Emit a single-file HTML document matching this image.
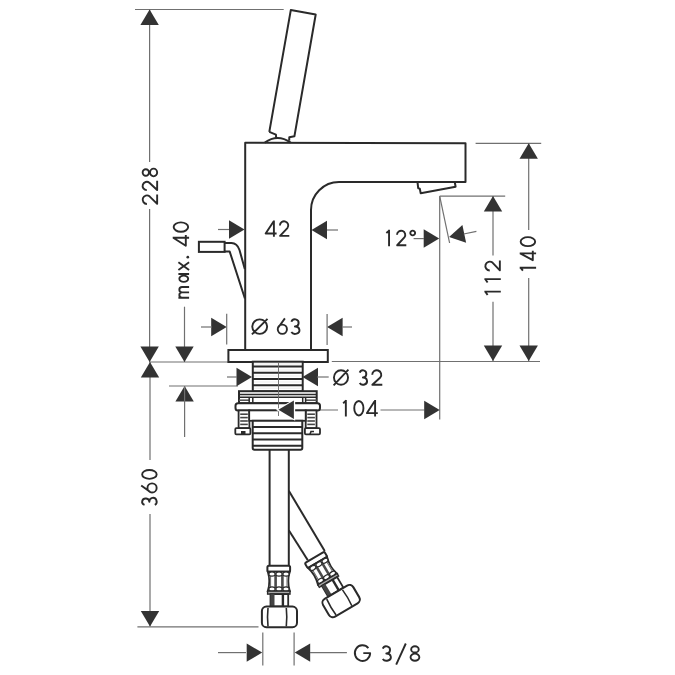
<!DOCTYPE html>
<html><head><meta charset="utf-8"><style>
html,body{margin:0;padding:0;background:#fff;width:675px;height:675px;overflow:hidden}
svg{display:block}
body{font-family:"Liberation Sans",sans-serif}
</style></head><body>
<svg width="675" height="675" viewBox="0 0 675 675">
<rect width="675" height="675" fill="#fff"/>
<line x1="135" y1="9.5" x2="283.7" y2="9.5" stroke="#707070" stroke-width="1.2"/>
<line x1="149.6" y1="9.5" x2="149.6" y2="162" stroke="#707070" stroke-width="1.2"/>
<line x1="149.6" y1="209" x2="149.6" y2="362" stroke="#707070" stroke-width="1.2"/>
<polygon points="149.60,9.50 140.40,25.00 158.80,25.00" fill="#333333"/>
<polygon points="149.60,362.00 140.40,346.50 158.80,346.50" fill="#333333"/>
<line x1="149.5" y1="362" x2="230" y2="362" stroke="#707070" stroke-width="1.2"/>
<line x1="331.8" y1="361.5" x2="540" y2="361.5" stroke="#707070" stroke-width="1.2"/>
<line x1="150" y1="362" x2="150" y2="460" stroke="#707070" stroke-width="1.2"/>
<line x1="150" y1="514" x2="150" y2="626.6" stroke="#707070" stroke-width="1.2"/>
<polygon points="150.00,362.00 140.80,377.50 159.20,377.50" fill="#333333"/>
<polygon points="150.00,626.60 140.80,611.10 159.20,611.10" fill="#333333"/>
<line x1="137.4" y1="626.8" x2="258.5" y2="626.8" stroke="#707070" stroke-width="1.2"/>
<line x1="184.5" y1="306.7" x2="184.5" y2="362" stroke="#707070" stroke-width="1.2"/>
<polygon points="184.50,362.00 175.30,346.50 193.70,346.50" fill="#333333"/>
<line x1="169" y1="386" x2="238" y2="386" stroke="#707070" stroke-width="1.2"/>
<polygon points="184.60,386.00 175.40,401.50 193.80,401.50" fill="#333333"/>
<line x1="184.6" y1="386" x2="184.6" y2="437" stroke="#707070" stroke-width="1.2"/>
<polygon points="244.50,229.50 229.00,220.30 229.00,238.70" fill="#333333"/>
<line x1="218" y1="229.5" x2="229" y2="229.5" stroke="#707070" stroke-width="1.2"/>
<polygon points="311.50,230.00 327.00,220.80 327.00,239.20" fill="#333333"/>
<line x1="327" y1="230" x2="338" y2="230" stroke="#707070" stroke-width="1.2"/>
<polygon points="226.70,327.00 211.20,317.80 211.20,336.20" fill="#333333"/>
<line x1="201" y1="327" x2="212" y2="327" stroke="#707070" stroke-width="1.2"/>
<line x1="226.7" y1="313.8" x2="226.7" y2="344.4" stroke="#707070" stroke-width="1.2"/>
<polygon points="327.10,327.00 342.60,317.80 342.60,336.20" fill="#333333"/>
<line x1="342" y1="327" x2="352" y2="327" stroke="#707070" stroke-width="1.2"/>
<line x1="327.1" y1="314" x2="327.1" y2="345" stroke="#707070" stroke-width="1.2"/>
<polygon points="252.00,377.00 236.50,367.80 236.50,386.20" fill="#333333"/>
<line x1="227" y1="377" x2="237" y2="377" stroke="#707070" stroke-width="1.2"/>
<polygon points="302.50,377.00 318.00,367.80 318.00,386.20" fill="#333333"/>
<line x1="317" y1="377" x2="328.7" y2="377" stroke="#707070" stroke-width="1.2"/>
<line x1="439.7" y1="196.2" x2="439.7" y2="419.5" stroke="#707070" stroke-width="1.2"/>
<line x1="294" y1="410" x2="338" y2="410" stroke="#707070" stroke-width="1.2"/>
<line x1="380.5" y1="410" x2="424.5" y2="410" stroke="#707070" stroke-width="1.2"/>
<polygon points="439.70,410.00 424.20,400.80 424.20,419.20" fill="#333333"/>
<line x1="439.7" y1="196.2" x2="505.2" y2="196.2" stroke="#707070" stroke-width="1.2"/>
<line x1="439.7" y1="196.2" x2="449.6" y2="243" stroke="#707070" stroke-width="1.2"/>
<polygon points="439.20,238.50 423.70,229.30 423.70,247.70" fill="#333333"/>
<line x1="413.6" y1="238.6" x2="424" y2="238.6" stroke="#707070" stroke-width="1.2"/>
<g transform="rotate(-12 449.1 237.1)"><polygon points="449.1,237.1 464.6,228.1 464.6,246.1" fill="#333333"/><line x1="464" y1="237.1" x2="477" y2="237.1" stroke="#707070" stroke-width="1.2"/></g>
<line x1="493" y1="196" x2="493" y2="255.5" stroke="#707070" stroke-width="1.2"/>
<line x1="493" y1="301.8" x2="493" y2="361" stroke="#707070" stroke-width="1.2"/>
<polygon points="493.00,196.00 483.80,211.50 502.20,211.50" fill="#333333"/>
<polygon points="493.00,361.00 483.80,345.50 502.20,345.50" fill="#333333"/>
<line x1="475.6" y1="143.3" x2="541.2" y2="143.3" stroke="#707070" stroke-width="1.2"/>
<line x1="528.7" y1="143.3" x2="528.7" y2="230" stroke="#707070" stroke-width="1.2"/>
<line x1="528.7" y1="278" x2="528.7" y2="361" stroke="#707070" stroke-width="1.2"/>
<polygon points="528.70,143.30 519.50,158.80 537.90,158.80" fill="#333333"/>
<polygon points="528.70,361.00 519.50,345.50 537.90,345.50" fill="#333333"/>
<line x1="218" y1="652.6" x2="246" y2="652.6" stroke="#707070" stroke-width="1.2"/>
<polygon points="262.20,652.60 246.70,643.40 246.70,661.80" fill="#333333"/>
<polygon points="294.70,652.60 310.20,643.40 310.20,661.80" fill="#333333"/>
<line x1="310" y1="652.6" x2="346.9" y2="652.6" stroke="#707070" stroke-width="1.2"/>
<line x1="262.8" y1="632.4" x2="262.8" y2="665.6" stroke="#707070" stroke-width="1.2"/>
<line x1="294.1" y1="632.4" x2="294.1" y2="665.6" stroke="#707070" stroke-width="1.2"/>
<path d="M269.3,131.9 L290.8,10.1 L315.7,14.5 L294.4,136.3 L289.3,137.2 L289.2,140.8" fill="none" stroke="#2a2a2a" stroke-width="2" stroke-linejoin="round"/>
<path d="M269.3,131.9 L275.9,134.6 L276.2,138.2" fill="none" stroke="#2a2a2a" stroke-width="2" stroke-linejoin="round"/>
<path d="M264.8,142.6 Q277.5,133.5 290.7,142.6" fill="none" stroke="#2a2a2a" stroke-width="2" stroke-linejoin="round"/>
<path d="M245.2,350 V142.8 L465.5,143.3 V182 H339 A28,28 0 0 0 311,210 V350" fill="none" stroke="#2a2a2a" stroke-width="2" stroke-linejoin="round"/>
<polyline points="417.50,182.20 418.20,188.20 419.80,188.60 420.70,193.30 455.60,186.70 454.80,182.30" fill="none" stroke="#2a2a2a" stroke-width="2" stroke-linejoin="round"/>
<rect x="198.9" y="241.8" width="25.7" height="10.1" rx="0" fill="#fff" stroke="#2a2a2a" stroke-width="2"/>
<path d="M224.6,243 H231.5 Q237,243 239.5,250 L244.8,269" fill="none" stroke="#2a2a2a" stroke-width="2" stroke-linejoin="round"/>
<path d="M224.6,251.6 H229.7 L244.9,298.5" fill="none" stroke="#2a2a2a" stroke-width="2" stroke-linejoin="round"/>
<rect x="228.4" y="350" width="99.4" height="12" rx="0" fill="#fff" stroke="#2a2a2a" stroke-width="2"/>
<rect x="252.8" y="361.7" width="49.9" height="29.7" rx="0" fill="#fff" stroke="#2a2a2a" stroke-width="2"/>
<line x1="252.8" y1="366.5" x2="302.7" y2="366.5" stroke="#2a2a2a" stroke-width="2.0"/>
<line x1="252.8" y1="372.8" x2="302.7" y2="372.8" stroke="#2a2a2a" stroke-width="2.0"/>
<line x1="252.8" y1="379" x2="302.7" y2="379" stroke="#2a2a2a" stroke-width="2.0"/>
<line x1="252.8" y1="385.2" x2="302.7" y2="385.2" stroke="#2a2a2a" stroke-width="2.0"/>
<line x1="254" y1="364" x2="301.5" y2="364" stroke="#e4e4e4" stroke-width="0.7"/>
<line x1="254" y1="370" x2="301.5" y2="370" stroke="#e4e4e4" stroke-width="0.7"/>
<line x1="254" y1="376" x2="301.5" y2="376" stroke="#e4e4e4" stroke-width="0.7"/>
<line x1="254" y1="382" x2="301.5" y2="382" stroke="#e4e4e4" stroke-width="0.7"/>
<line x1="254" y1="388.2" x2="301.5" y2="388.2" stroke="#e4e4e4" stroke-width="0.7"/>
<rect x="239" y="391.2" width="77.7" height="12" rx="0" fill="#fff" stroke="#2a2a2a" stroke-width="2"/>
<line x1="239" y1="394.5" x2="316.7" y2="394.5" stroke="#2a2a2a" stroke-width="1.4"/>
<line x1="239" y1="397.3" x2="316.7" y2="397.3" stroke="#2a2a2a" stroke-width="1.6"/>
<line x1="239" y1="400.2" x2="249" y2="400.2" stroke="#555" stroke-width="1.6"/>
<line x1="305.7" y1="400.2" x2="316.7" y2="400.2" stroke="#555" stroke-width="1.6"/>
<line x1="249.2" y1="397.3" x2="249.2" y2="403" stroke="#2a2a2a" stroke-width="1.5"/>
<line x1="252.8" y1="397.3" x2="252.8" y2="403" stroke="#2a2a2a" stroke-width="1.5"/>
<line x1="302.7" y1="397.3" x2="302.7" y2="403" stroke="#2a2a2a" stroke-width="1.5"/>
<line x1="305.6" y1="397.3" x2="305.6" y2="403" stroke="#2a2a2a" stroke-width="1.5"/>
<rect x="235.5" y="403.3" width="84.5" height="7.1" rx="2.5" fill="#fff" stroke="#2a2a2a" stroke-width="2"/>
<rect x="238.6" y="410.4" width="10.8" height="17.8" rx="0" fill="#fff" stroke="#2a2a2a" stroke-width="1.8"/>
<line x1="240.2" y1="414.2" x2="247.79999999999998" y2="414.2" stroke="#444" stroke-width="1.6"/>
<line x1="240.2" y1="417.6" x2="247.79999999999998" y2="417.6" stroke="#444" stroke-width="1.6"/>
<line x1="240.2" y1="421" x2="247.79999999999998" y2="421" stroke="#444" stroke-width="1.6"/>
<line x1="240.2" y1="424.4" x2="247.79999999999998" y2="424.4" stroke="#444" stroke-width="1.6"/>
<rect x="305.7" y="410.4" width="10.8" height="17.8" rx="0" fill="#fff" stroke="#2a2a2a" stroke-width="1.8"/>
<line x1="307.3" y1="414.2" x2="314.9" y2="414.2" stroke="#444" stroke-width="1.6"/>
<line x1="307.3" y1="417.6" x2="314.9" y2="417.6" stroke="#444" stroke-width="1.6"/>
<line x1="307.3" y1="421" x2="314.9" y2="421" stroke="#444" stroke-width="1.6"/>
<line x1="307.3" y1="424.4" x2="314.9" y2="424.4" stroke="#444" stroke-width="1.6"/>
<rect x="235.3" y="428.2" width="15.1" height="6.1" rx="1" fill="#fff" stroke="#2a2a2a" stroke-width="1.8"/>
<rect x="241" y="431" width="4.5" height="3.3" fill="#2a2a2a"/>
<rect x="304.9" y="428.2" width="15.1" height="6.1" rx="1" fill="#fff" stroke="#2a2a2a" stroke-width="1.8"/>
<path d="M310,434.3 L311,431.5 L314,431.5" stroke="#2a2a2a" stroke-width="1.6" fill="none"/>
<rect x="249.2" y="410.4" width="56.5" height="10.4" rx="0" fill="#fff" stroke="#2a2a2a" stroke-width="1.8"/>
<path d="M252.7,420.8 V448 Q252.7,449.7 254.5,449.7 H300.5 Q302.3,449.7 302.3,448 V420.8 Z" fill="#fff" stroke="#2a2a2a" stroke-width="2"/>
<line x1="252.7" y1="427" x2="302.3" y2="427" stroke="#2a2a2a" stroke-width="2.0"/>
<line x1="252.7" y1="433.3" x2="302.3" y2="433.3" stroke="#2a2a2a" stroke-width="2.0"/>
<line x1="252.7" y1="439.6" x2="302.3" y2="439.6" stroke="#2a2a2a" stroke-width="2.0"/>
<line x1="252.7" y1="445.8" x2="302.3" y2="445.8" stroke="#2a2a2a" stroke-width="2.0"/>
<line x1="278.5" y1="362" x2="278.5" y2="416" stroke="#666" stroke-width="0.9"/>
<polygon points="278.4,409.8 293.9,401 293.9,418.6" fill="#fff" stroke="#fff" stroke-width="2.5"/>
<polygon points="278.40,409.80 293.90,400.60 293.90,419.00" fill="#333333"/>
<line x1="269.6" y1="449.7" x2="269.6" y2="566.7" stroke="#2a2a2a" stroke-width="2"/>
<line x1="288.8" y1="449.7" x2="288.8" y2="566.7" stroke="#2a2a2a" stroke-width="2"/>
<line x1="288.8" y1="490.7" x2="324.7" y2="551" stroke="#2a2a2a" stroke-width="2"/>
<line x1="288.8" y1="530.3" x2="307.8" y2="560.2" stroke="#2a2a2a" stroke-width="2"/>
<g><rect x="267.4" y="565.8" width="22.7" height="5.9" rx="1.5" fill="#fff" stroke="#2a2a2a" stroke-width="2"/><path d="M267.8,571.7 Q270.8,581.4 267.8,591.1 H289.8 Q286.8,581.4 289.8,571.7 Z" fill="#fff" stroke="#2a2a2a" stroke-width="1.8"/><rect x="274.3" y="575" width="2.6" height="13" fill="#4a4a4a"/><rect x="281.1" y="575" width="2.6" height="13" fill="#4a4a4a"/><line x1="270.6" y1="575.5" x2="270.6" y2="588" stroke="#666" stroke-width="1.0"/><line x1="287.0" y1="575.5" x2="287.0" y2="588" stroke="#666" stroke-width="1.0"/><ellipse cx="272.0" cy="574.0" rx="3.2" ry="2.1" fill="#fff" stroke="#2a2a2a" stroke-width="1.2"/><ellipse cx="272.0" cy="589.0" rx="3.2" ry="2.1" fill="#fff" stroke="#2a2a2a" stroke-width="1.2"/><ellipse cx="279.0" cy="574.0" rx="3.2" ry="2.1" fill="#fff" stroke="#2a2a2a" stroke-width="1.2"/><ellipse cx="279.0" cy="589.0" rx="3.2" ry="2.1" fill="#fff" stroke="#2a2a2a" stroke-width="1.2"/><ellipse cx="286.0" cy="574.0" rx="3.2" ry="2.1" fill="#fff" stroke="#2a2a2a" stroke-width="1.2"/><ellipse cx="286.0" cy="589.0" rx="3.2" ry="2.1" fill="#fff" stroke="#2a2a2a" stroke-width="1.2"/><rect x="267.6" y="591.1" width="22.4" height="3.0" rx="0" fill="#a8a8a8" stroke="#2a2a2a" stroke-width="1.4"/><rect x="270.5" y="594.1" width="17.7" height="12.4" rx="0" fill="#fff" stroke="#2a2a2a" stroke-width="1.8"/><rect x="270.5" y="594.1" width="4.0" height="12.4" fill="#444"/><rect x="281.7" y="594.1" width="2.4" height="12.4" fill="#2a2a2a"/><rect x="261.9" y="606.6" width="35.1" height="20.6" rx="4.5" fill="#fff" stroke="#2a2a2a" stroke-width="2"/><path d="M268,608 Q267,617.2 268,626.4" fill="none" stroke="#2a2a2a" stroke-width="1.6"/><path d="M286.3,608 Q287.3,617.2 286.3,626.4" fill="none" stroke="#2a2a2a" stroke-width="1.6"/></g>
<g transform="translate(314.7 556.7) rotate(-30.5) translate(-279.2 -565.3)"><rect x="267.4" y="565.8" width="22.7" height="5.9" rx="1.5" fill="#fff" stroke="#2a2a2a" stroke-width="2"/><path d="M267.8,571.7 Q270.8,581.4 267.8,591.1 H289.8 Q286.8,581.4 289.8,571.7 Z" fill="#fff" stroke="#2a2a2a" stroke-width="1.8"/><rect x="274.3" y="575" width="2.6" height="13" fill="#4a4a4a"/><rect x="281.1" y="575" width="2.6" height="13" fill="#4a4a4a"/><line x1="270.6" y1="575.5" x2="270.6" y2="588" stroke="#666" stroke-width="1.0"/><line x1="287.0" y1="575.5" x2="287.0" y2="588" stroke="#666" stroke-width="1.0"/><ellipse cx="272.0" cy="574.0" rx="3.2" ry="2.1" fill="#fff" stroke="#2a2a2a" stroke-width="1.2"/><ellipse cx="272.0" cy="589.0" rx="3.2" ry="2.1" fill="#fff" stroke="#2a2a2a" stroke-width="1.2"/><ellipse cx="279.0" cy="574.0" rx="3.2" ry="2.1" fill="#fff" stroke="#2a2a2a" stroke-width="1.2"/><ellipse cx="279.0" cy="589.0" rx="3.2" ry="2.1" fill="#fff" stroke="#2a2a2a" stroke-width="1.2"/><ellipse cx="286.0" cy="574.0" rx="3.2" ry="2.1" fill="#fff" stroke="#2a2a2a" stroke-width="1.2"/><ellipse cx="286.0" cy="589.0" rx="3.2" ry="2.1" fill="#fff" stroke="#2a2a2a" stroke-width="1.2"/><rect x="267.6" y="591.1" width="22.4" height="3.0" rx="0" fill="#a8a8a8" stroke="#2a2a2a" stroke-width="1.4"/><rect x="270.5" y="594.1" width="17.7" height="12.4" rx="0" fill="#fff" stroke="#2a2a2a" stroke-width="1.8"/><rect x="270.5" y="594.1" width="4.0" height="12.4" fill="#444"/><rect x="281.7" y="594.1" width="2.4" height="12.4" fill="#2a2a2a"/><rect x="261.9" y="606.6" width="35.1" height="20.6" rx="4.5" fill="#fff" stroke="#2a2a2a" stroke-width="2"/><path d="M268,608 Q267,617.2 268,626.4" fill="none" stroke="#2a2a2a" stroke-width="1.6"/><path d="M286.3,608 Q287.3,617.2 286.3,626.4" fill="none" stroke="#2a2a2a" stroke-width="1.6"/></g>
<g transform="translate(0.00 236.80)" fill="none" stroke="#2a2a2a" stroke-width="1.9" stroke-linecap="butt" stroke-linejoin="round"><path transform="translate(264.70 0)" d="M9.20,0 V-16.40 M9.20,-15.90 L0.95,-3.30 H11.90"/><path transform="translate(278.90 0)" d="M1.04,-11.29 A4.17,4.17 0 1 1 8.48,-8.72 L1.15,-0.95 H10.40"/></g>
<g transform="translate(0.00 334.80)" fill="none" stroke="#2a2a2a" stroke-width="1.9" stroke-linecap="butt" stroke-linejoin="round"><path transform="translate(251.30 0)" d="M0.95,-8.20 A7.45,7.25 0 1 1 15.85,-8.20 A7.45,7.25 0 1 1 0.95,-8.20 Z M0.60,-0.40 L16.20,-16.00"/><path transform="translate(276.80 0)" d="M0.95,-5.55 A4.60,4.60 0 1 1 10.15,-5.55 A4.60,4.60 0 1 1 0.95,-5.55 Z M8.10,-16.40 L1.45,-7.35"/><path transform="translate(289.80 0)" d="M1.58,-13.08 A3.74,3.60 0 1 1 5.10,-8.25 A4.35,3.65 0 1 1 1.53,-2.77"/></g>
<g transform="translate(0.00 385.70)" fill="none" stroke="#2a2a2a" stroke-width="1.9" stroke-linecap="butt" stroke-linejoin="round"><path transform="translate(333.00 0)" d="M0.95,-8.20 A7.05,7.25 0 1 1 15.05,-8.20 A7.05,7.25 0 1 1 0.95,-8.20 Z M0.60,-0.40 L15.40,-16.00"/><path transform="translate(358.20 0)" d="M1.51,-13.08 A3.40,3.60 0 1 1 4.70,-8.25 A3.95,3.65 0 1 1 1.48,-2.77"/><path transform="translate(371.20 0)" d="M1.04,-10.94 A4.51,4.51 0 1 1 9.10,-8.17 L1.15,-0.95 H11.10"/></g>
<g transform="translate(0.00 416.40)" fill="none" stroke="#2a2a2a" stroke-width="1.9" stroke-linecap="butt" stroke-linejoin="round"><path transform="translate(342.20 0)" d="M3.65,0 V-16.40 M4.05,-15.80 L0.95,-13.20"/><path transform="translate(353.30 0)" d="M0.95,-8.20 A4.60,7.25 0 1 1 10.15,-8.20 A4.60,7.25 0 1 1 0.95,-8.20 Z"/><path transform="translate(366.00 0)" d="M9.10,0 V-16.40 M9.10,-15.90 L0.95,-3.30 H11.80"/></g>
<g transform="translate(0.00 246.20)" fill="none" stroke="#2a2a2a" stroke-width="1.9" stroke-linecap="butt" stroke-linejoin="round"><path transform="translate(385.40 0)" d="M3.65,0 V-16.40 M4.05,-15.80 L0.95,-13.20"/><path transform="translate(396.00 0)" d="M1.03,-11.33 A4.12,4.12 0 1 1 8.39,-8.80 L1.15,-0.95 H10.30"/><path transform="translate(409.50 0)" d="M0.80,-13.20 A2.40,2.40 0 1 1 5.60,-13.20 A2.40,2.40 0 1 1 0.80,-13.20 Z"/></g>
<g transform="translate(0.00 661.70)" fill="none" stroke="#2a2a2a" stroke-width="1.9" stroke-linecap="butt" stroke-linejoin="round"><path transform="translate(353.90 0)" d="M14.46,-13.65 A7.65,7.85 0 1 0 16.25,-8.60 H9.40"/><path transform="translate(381.20 0)" d="M1.58,-13.08 A3.74,3.60 0 1 1 5.10,-8.25 A4.35,3.65 0 1 1 1.53,-2.77"/><path transform="translate(395.40 0)" d="M0.80,3.0 L10.40,-18.20"/><path transform="translate(409.60 0)" d="M1.57,-12.30 A3.78,3.15 0 1 1 9.13,-12.30 A3.78,3.15 0 1 1 1.57,-12.30 Z M0.95,-4.50 A4.40,3.55 0 1 1 9.75,-4.50 A4.40,3.55 0 1 1 0.95,-4.50 Z"/></g>
<g transform="translate(158.10 205.00) rotate(-90)" fill="none" stroke="#2a2a2a" stroke-width="1.9" stroke-linecap="butt" stroke-linejoin="round"><path transform="translate(0.00 0)" d="M1.04,-11.19 A4.26,4.26 0 1 1 8.66,-8.56 L1.15,-0.95 H10.60"/><path transform="translate(13.80 0)" d="M1.04,-11.29 A4.17,4.17 0 1 1 8.48,-8.72 L1.15,-0.95 H10.40"/><path transform="translate(27.70 0)" d="M1.49,-12.30 A3.31,3.15 0 1 1 8.11,-12.30 A3.31,3.15 0 1 1 1.49,-12.30 Z M0.95,-4.50 A3.85,3.55 0 1 1 8.65,-4.50 A3.85,3.55 0 1 1 0.95,-4.50 Z"/></g>
<g transform="translate(157.60 506.40) rotate(-90)" fill="none" stroke="#2a2a2a" stroke-width="1.9" stroke-linecap="butt" stroke-linejoin="round"><path transform="translate(0.00 0)" d="M1.49,-13.08 A3.31,3.60 0 1 1 4.60,-8.25 A3.85,3.65 0 1 1 1.47,-2.77"/><path transform="translate(12.90 0)" d="M0.95,-5.55 A4.60,4.60 0 1 1 10.15,-5.55 A4.60,4.60 0 1 1 0.95,-5.55 Z M8.10,-16.40 L1.45,-7.35"/><path transform="translate(26.60 0)" d="M0.95,-8.20 A4.45,7.25 0 1 1 9.85,-8.20 A4.45,7.25 0 1 1 0.95,-8.20 Z"/></g>
<circle cx="187.79999999999998" cy="257.2" r="1.35" fill="#2a2a2a"/>
<g transform="translate(189.10 298.70) rotate(-90)" fill="none" stroke="#2a2a2a" stroke-width="1.9" stroke-linecap="butt" stroke-linejoin="round"><path transform="translate(0.00 0)" d="M0.95,0 V-10.70 M0.95,-7.08 A2.67,2.67 0 0 1 6.30,-7.08 V0 M6.30,-7.08 A2.67,2.67 0 0 1 11.65,-7.08 V0"/><path transform="translate(15.90 0)" d="M0.95,-5.35 A3.10,4.40 0 1 1 7.15,-5.35 A3.10,4.40 0 1 1 0.95,-5.35 Z M8.75,0 V-10.70"/><path transform="translate(27.80 0)" d="M0.95,-10.70 L8.65,0 M8.65,-10.70 L0.95,0"/><path transform="translate(52.00 0)" d="M9.00,0 V-16.40 M9.00,-15.90 L0.95,-3.30 H11.70"/><path transform="translate(66.00 0)" d="M0.95,-8.20 A4.70,7.25 0 1 1 10.35,-8.20 A4.70,7.25 0 1 1 0.95,-8.20 Z"/></g>
<g transform="translate(500.80 295.90) rotate(-90)" fill="none" stroke="#2a2a2a" stroke-width="1.9" stroke-linecap="butt" stroke-linejoin="round"><path transform="translate(0.00 0)" d="M4.25,0 V-16.40 M4.65,-15.80 L0.95,-13.20"/><path transform="translate(12.50 0)" d="M4.25,0 V-16.40 M4.65,-15.80 L0.95,-13.20"/><path transform="translate(24.40 0)" d="M1.04,-11.04 A4.41,4.41 0 1 1 8.93,-8.32 L1.15,-0.95 H10.90"/></g>
<g transform="translate(536.10 271.50) rotate(-90)" fill="none" stroke="#2a2a2a" stroke-width="1.9" stroke-linecap="butt" stroke-linejoin="round"><path transform="translate(0.00 0)" d="M3.75,0 V-16.40 M4.15,-15.80 L0.95,-13.20"/><path transform="translate(10.40 0)" d="M7.70,0 V-16.40 M7.70,-15.90 L0.95,-3.30 H10.40"/><path transform="translate(24.40 0)" d="M0.95,-8.20 A4.50,7.25 0 1 1 9.95,-8.20 A4.50,7.25 0 1 1 0.95,-8.20 Z"/></g>
</svg></body></html>
